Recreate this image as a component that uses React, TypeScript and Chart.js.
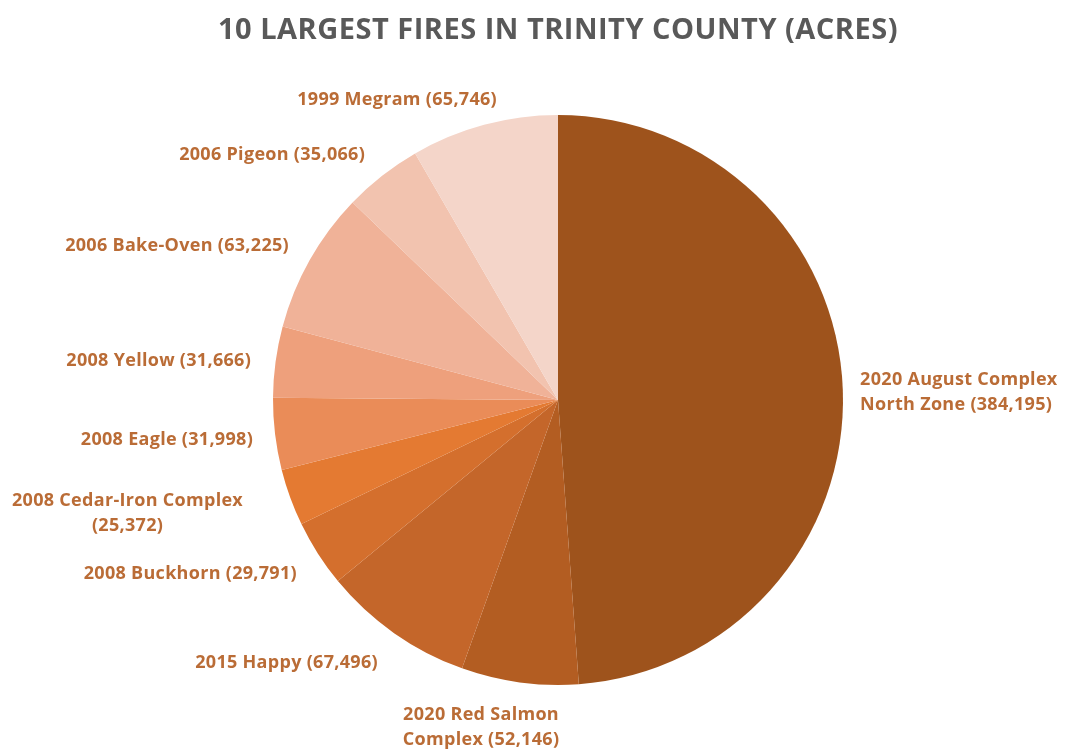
import React, { useEffect, useRef } from "react";
import { Chart, registerables } from "chart.js";

Chart.register(...registerables);

const fireLabels: string[][] = [
  ["2020 August Complex", "North Zone (384,195)"],
  ["2020 Red Salmon", "Complex (52,146)"],
  ["2015 Happy (67,496)"],
  ["2008 Buckhorn (29,791)"],
  ["2008 Cedar-Iron Complex", "(25,372)"],
  ["2008 Eagle (31,998)"],
  ["2008 Yellow (31,666)"],
  ["2006 Bake-Oven (63,225)"],
  ["2006 Pigeon (35,066)"],
  ["1999 Megram (65,746)"],
];

const acres: number[] = [384195, 52146, 67496, 29791, 25372, 31998, 31666, 63225, 35066, 65746];

const sliceColors: string[] = [
  "#9E531C",
  "#B35D22",
  "#C4662A",
  "#D46F2D",
  "#E47A32",
  "#EA8C58",
  "#EEA07C",
  "#F0B298",
  "#F2C3AF",
  "#F4D5C9",
];

const chartTitle = "10 LARGEST FIRES IN TRINITY COUNTY (ACRES)";

// label anchor relative to pie centre, in units of radius; align = which edge of the text block sits on the anchor
const labelAnchors: { fx: number; fy: number; align: "left" | "right" | "center" }[] = [
  { fx: 1.06, fy: -0.026, align: "left" },
  { fx: -0.27, fy: 1.147, align: "center" },
  { fx: -0.632, fy: 0.923, align: "right" },
  { fx: -0.916, fy: 0.611, align: "right" },
  { fx: -1.105, fy: 0.398, align: "right" },
  { fx: -1.07, fy: 0.14, align: "right" },
  { fx: -1.077, fy: -0.137, align: "right" },
  { fx: -0.944, fy: -0.54, align: "right" },
  { fx: -0.677, fy: -0.86, align: "right" },
  { fx: -0.214, fy: -1.053, align: "right" },
];

const labelFont = "bold 18px 'Open Sans'";
const labelColor = "#BA6C36";
const lineHeight = 25;

const labelPlugin = {
  id: "fireLabels",
  afterDraw(chart: any) {
    const ctx = chart.ctx;
    const meta = chart.getDatasetMeta(0);
    const arc0 = meta.data[0];
    const cx = arc0.x;
    const cy = arc0.y;
    const r = arc0.outerRadius;
    ctx.save();
    // title
    ctx.font = "bold 29px 'Open Sans'";
    ctx.letterSpacing = "0.5px";
    ctx.fillStyle = "#595959";
    ctx.textAlign = "center";
    ctx.textBaseline = "middle";
    ctx.fillText(chartTitle, cx, 31);
    // labels
    ctx.font = labelFont;
    ctx.letterSpacing = "0.3px";
    ctx.fillStyle = labelColor;
    fireLabels.forEach((lines, i) => {
      const a = labelAnchors[i];
      const ax = cx + a.fx * r;
      const ay = cy + a.fy * r;
      const widths = lines.map((l) => ctx.measureText(l).width);
      const bw = Math.max(...widths);
      let centerX = ax;
      if (a.align === "left") centerX = ax + bw / 2;
      if (a.align === "right") centerX = ax - bw / 2;
      const totalH = (lines.length - 1) * lineHeight;
      lines.forEach((l, j) => {
        ctx.textAlign = a.align === "left" ? "left" : "center";
        const x = a.align === "left" ? ax : centerX;
        ctx.fillText(l, x, ay - totalH / 2 + j * lineHeight);
      });
    });
    ctx.restore();
  },
};

export default function App() {
  const ref = useRef<HTMLCanvasElement | null>(null);
  useEffect(() => {
    if (!ref.current) return;
    const chart = new Chart(ref.current, {
      type: "pie",
      data: {
        labels: fireLabels.map((l) => l.join(" ")),
        datasets: [
          {
            data: acres,
            backgroundColor: sliceColors,
            borderWidth: 0,
          },
        ],
      },
      options: {
        responsive: false,
        animation: false,
        layout: { padding: { top: 115, bottom: 66, left: 273, right: 227 } },
        plugins: {
          legend: { display: false },
          tooltip: { enabled: false },
          title: { display: false },
        },
      },
      plugins: [labelPlugin],
    });
    return () => chart.destroy();
  }, []);
  return (
    <div style={{ position: "absolute", left: 0, top: 0, width: 1070, height: 751, background: "#fff" }}>
      <canvas ref={ref} width={1070} height={751} />
    </div>
  );
}
